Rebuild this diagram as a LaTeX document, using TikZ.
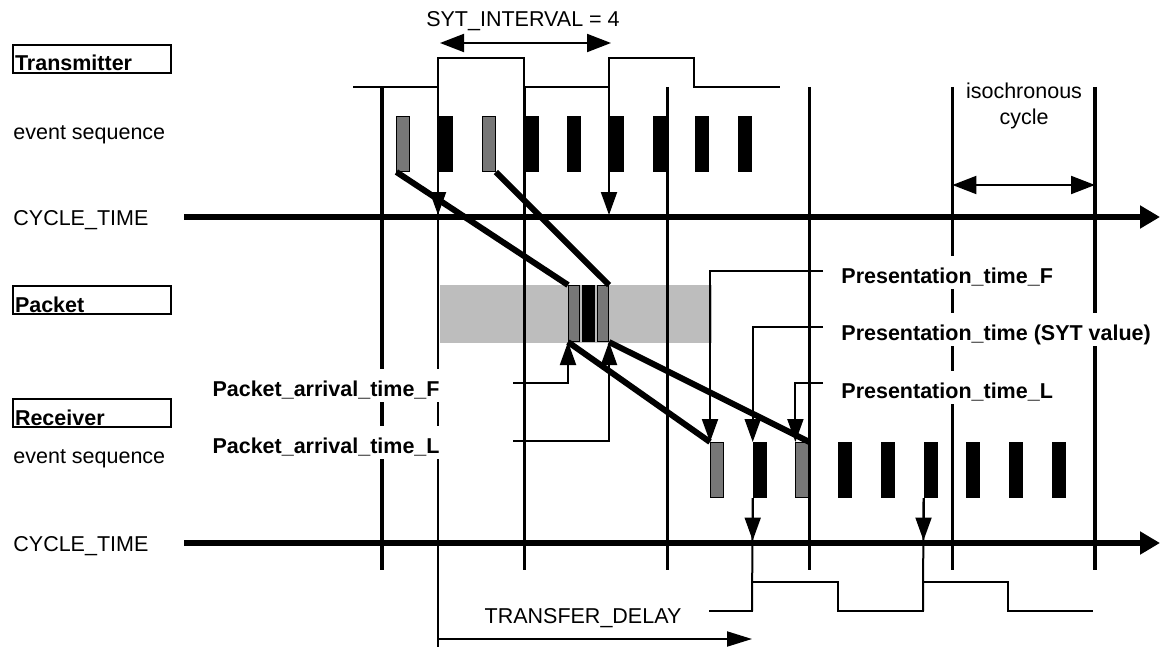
\documentclass[tikz,border=0pt]{standalone}
\usepackage{fontspec}
\setmainfont{Liberation Sans}
\usetikzlibrary{positioning, arrows.meta, calc}

\definecolor{evgray}{HTML}{777777}
\definecolor{bargray}{HTML}{BDBDBD}

\begin{document}
\begin{tikzpicture}[
    x=0.5pt, y=-0.5pt,
    font=\fontsize{10.75}{13}\selectfont,
    lbox/.style={draw, line width=1pt, anchor=south west, inner xsep=1pt, inner ysep=0pt, text width=77pt, align=left, text height=13pt, text depth=1pt, font=\fontsize{10.75}{13}\selectfont\bfseries},
    txt/.style={anchor=base west, inner sep=0pt},
    tlab/.style={fill=white, inner xsep=1pt, inner ysep=2.5pt, text height=11pt, text depth=0.5pt, font=\fontsize{10.75}{13}\selectfont\bfseries},
    evb/.style={draw, line width=0.5pt, fill=black, anchor=north west, inner sep=0pt, minimum width=6.5pt, minimum height=27.5pt},
    evg/.style={evb, fill=evgray},
    ctaxis/.style={line width=2.75pt, -{Triangle[length=10pt,width=11pt]}},
    cyc/.style={line width=1.6pt},
    sig/.style={line width=1pt},
    diag/.style={line width=3pt},
    tk/.style={line width=1pt, -{Triangle[length=11.5pt,width=8pt]}},
    dbl/.style={line width=1pt, {Triangle[length=12pt,width=9pt]}-{Triangle[length=12pt,width=9pt]}},
]
\useasboundingbox (0,0) rectangle (1160,647);

% === LEFT: row labels ===
\node[lbox] (tx) at (12,74) {Transmitter};
\node[txt] (evT) at (13,139) {event sequence};
\node[txt] (ctT) at (13,225) {CYCLE\_TIME};
\node[lbox] (pkt) at (12,315) {Packet};
\node[lbox] (rx) at (12,428) {Receiver};
\node[txt] (evR) at (13,463) {event sequence};
\node[txt] (ctR) at (13,551) {CYCLE\_TIME};

% --- Packet bar (under the cycle lines) ---
\node[fill=bargray, anchor=north west, inner sep=0pt, minimum width=136pt, minimum height=29pt] (bar) at (440,285) {};

% --- Isochronous cycle boundaries ---
\foreach \x in {382,524.6,667.2,809.8,952.4,1095}
    \draw[cyc] (\x,87) -- (\x,570);

% === TOP: transmitter ===
\draw[sig] (353,87) -- (438,87) -- (438,58) -- (524,58) -- (524,87) -- (609,87) -- (609,58) -- (694,58) -- (694,87) -- (780,87);
\draw[sig] (438,87) -- (438,647);
\coordinate (syA) at (438,215);
\coordinate (syB) at (609,215);
\draw[tk] (438,87) -- (syA);
\draw[tk] (609,87) -- (syB);

\node[anchor=base, inner sep=0pt] (syt) at (523,27) {SYT\_INTERVAL = 4};
\draw[dbl] (440,43) -- (611,43);

\foreach \i/\s in {0/evg,1/evb,2/evg,3/evb,4/evb,5/evb,6/evb,7/evb,8/evb}
    \node[\s] (t\i) at ({396.4+42.7*\i},116) {};

\coordinate (ctTa) at (184,217);
\coordinate (ctTb) at (1160,217);
\draw[ctaxis] (ctTa) -- (ctTb);

\node[align=center, inner sep=0pt] (iso) at (1024,105.5) {isochronous\\cycle};
\draw[dbl] (952.4,185) -- (1095,185);

% === MIDDLE: packet ===
\node[evg, minimum width=5.5pt, minimum height=28pt] (pk1) at (568,285) {};
\node[evb, minimum width=6pt, minimum height=28pt] (pk2) at (582,285) {};
\node[evg, minimum width=5.5pt, minimum height=28pt] (pk3) at (597,285) {};

% === BOTTOM: receiver ===
\foreach \i/\s in {0/evg,1/evb,2/evg,3/evb,4/evb,5/evb,6/evb,7/evb,8/evb}
    \node[\s] (r\i) at ({710+42.7*\i},442) {};

\coordinate (ctRa) at (184,543);
\coordinate (ctRb) at (1160,543);
\draw[ctaxis] (ctRa) -- (ctRb);

\draw[sig] (709,611) -- (752,611) -- (752,582) -- (838,582) -- (838,611) -- (923,611) -- (923,582) -- (1008,582) -- (1008,611) -- (1093,611);
\draw[sig] (r1.south west) -- (752,611);
\draw[sig] (r5.south west) -- (923,611);
\coordinate (ctB) at (0,540.5);
\draw[tk] (r1.south west) -- (r1.south west |- ctB);
\draw[tk] (r5.south west) -- (r5.south west |- ctB);

% --- Data paths ---
\draw[diag] (t0.south west) -- (pk1.north west);
\draw[diag] (t2.south east) -- (pk3.north east);
\draw[diag] (pk1.south west) -- (r0.north west);
\draw[diag] (pk3.south east) -- (r2.north east);

% --- Arrival times ---
\node[tlab, anchor=base east] (paF) at (442,396) {Packet\_arrival\_time\_F};
\node[tlab, anchor=base east] (paL) at (442,453) {Packet\_arrival\_time\_L};
\coordinate (paFs) at (513,383);
\coordinate (paLs) at (513,441);
\draw[tk] (paFs) -| (pk1.south west);
\draw[tk] (paLs) -| (pk3.south east);

% --- Presentation times ---
\node[tlab, anchor=base west] (prF) at (839,283) {Presentation\_time\_F};
\node[tlab, anchor=base west] (prS) at (839,340) {Presentation\_time (SYT value)};
\node[tlab, anchor=base west] (prL) at (839,398) {Presentation\_time\_L};
\coordinate (prFs) at (823,271);
\coordinate (prSs) at (823,327);
\coordinate (prLs) at (823,383);
\draw[tk] (prFs) -| (r0.north west);
\draw[tk] (prSs) -| (r1.north west);
\draw[tk] (prLs) -| (r2.north west);

% --- Transfer delay ---
\node[anchor=base, inner sep=0pt] (tdl) at (583,623) {TRANSFER\_DELAY};
\coordinate (tdA) at (438,639);
\coordinate (tdB) at (752,639);
\draw[tk, -{Triangle[length=12.5pt,width=7.5pt]}] (tdA) -- (tdB);

\end{tikzpicture}
\end{document}
